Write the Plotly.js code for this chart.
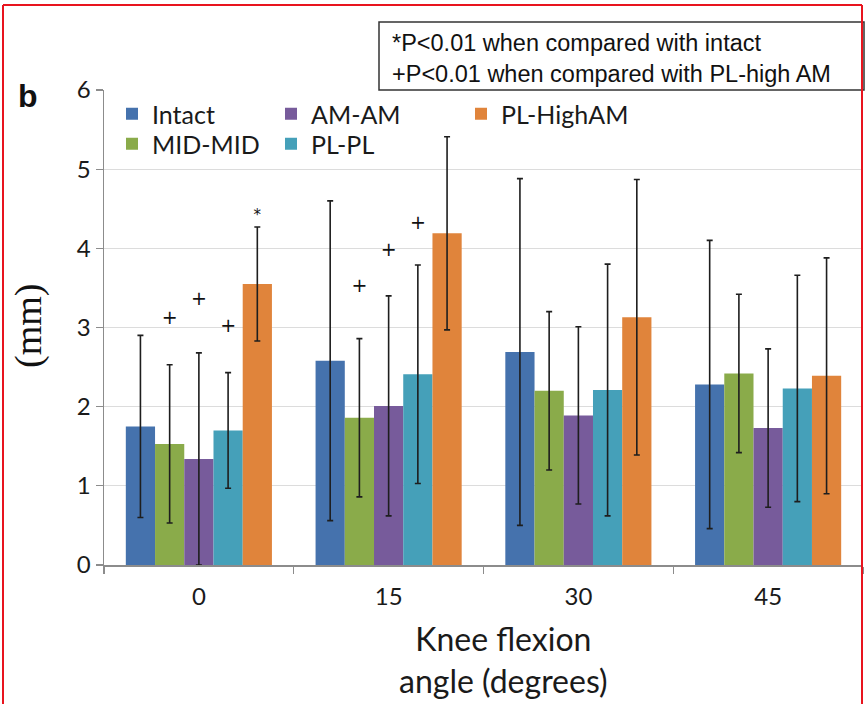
<!DOCTYPE html>
<html>
<head>
<meta charset="utf-8">
<script src="https://cdn.plot.ly/plotly-3.0.1.min.js"></script>
<style>
  html, body { margin: 0; padding: 0; background: #fff; }
  #chart { width: 866px; height: 704px; }
</style>
</head>
<body>
<div id="chart"></div>
<script>
// ---------- data ----------
const categories = ['0', '15', '30', '45'];
const seriesNames = ['Intact', 'MID-MID', 'AM-AM', 'PL-PL', 'PL-HighAM'];

const intact    = [1.75, 2.58, 2.69, 2.28];
const midMid    = [1.53, 1.86, 2.20, 2.42];
const amAm      = [1.34, 2.01, 1.89, 1.73];
const plPl      = [1.70, 2.41, 2.21, 2.23];
const plHighAm  = [3.55, 4.19, 3.13, 2.39];

const intactErr   = [1.15, 2.02, 2.19, 1.82];
const midMidErr   = [1.00, 1.00, 1.00, 1.00];
const amAmErr     = [1.34, 1.39, 1.12, 1.00];
const plPlErr     = [0.73, 1.38, 1.59, 1.43];
const plHighAmErr = [0.72, 1.22, 1.74, 1.49];

// significance symbols (per series, per category) and their heights
const midMidSig    = ['+', '+', '', ''];
const midMidSigY   = [3.10, 3.51, null, null];
const amAmSig      = ['+', '+', '', ''];
const amAmSigY     = [3.35, 3.96, null, null];
const plPlSig      = ['+', '+', '', ''];
const plPlSigY     = [3.00, 4.31, null, null];
const plHighAmSig  = ['*', '', '', ''];
const plHighAmSigY = [4.44, null, null, null];

const yTickVals = [0, 1, 2, 3, 4, 5, 6];

const noteLines = ['*P<0.01 when compared with intact', '+P<0.01 when compared with PL-high AM'];
const panelLabel = 'b';
const yTitle = '(mm)';
const xTitleLines = ['Knee flexion', 'angle (degrees)'];

// ---------- style ----------
const colors = ['#4572ad', '#8aab4a', '#775b9b', '#45a0b9', '#e0843b'];
const W = 866, H = 704;
const M = { l: 104, r: 3, t: 90, b: 139 };
const PW = W - M.l - M.r, PH = H - M.t - M.b;
const px = x => (x - M.l) / PW;          // pixel -> paper x
const py = y => 1 - (y - M.t) / PH;      // pixel -> paper y
const bargap = 0.23;
const calibri = 'Lato, "Open Sans", sans-serif';

const values = [intact, midMid, amAm, plPl, plHighAm];
const errs = [intactErr, midMidErr, amAmErr, plPlErr, plHighAmErr];
const legendIds = ['legend', 'legend2', 'legend3', 'legend4', 'legend5'];
// legend slot (pixel position of each entry's top-left), column-major as in the original
const legendSlots = [[112, 91], [112, 121], [271, 91], [271, 121], [461, 91]];

const traces = seriesNames.map((name, i) => ({
  type: 'bar',
  name: name,
  x: categories,
  y: values[i],
  marker: { color: colors[i], line: { width: 0 } },
  error_y: { type: 'data', array: errs[i], visible: true, color: '#1e1e1e', thickness: 1.6, width: 3 },
  legend: legendIds[i],
  hoverinfo: 'y+name'
}));

// significance marks on an overlaying numeric axis aligned to categories
const sigSets = [
  [1, midMidSig, midMidSigY],
  [2, amAmSig, amAmSigY],
  [3, plPlSig, plPlSigY],
  [4, plHighAmSig, plHighAmSigY]
];
const nSeries = seriesNames.length;
const barW = (1 - bargap) / nSeries;
sigSets.forEach(([si, txt, ys]) => {
  const xs = categories.map((c, ci) => ci + (si - (nSeries - 1) / 2) * barW);
  const isStar = txt.includes('*');
  traces.push({
    type: 'scatter', mode: 'text', xaxis: 'x2', yaxis: 'y',
    x: xs, y: isStar ? ys.map(v => v == null ? null : v - 0.03) : ys, text: txt,
    textposition: 'middle center',
    textfont: { family: 'DejaVu Sans, sans-serif', size: isStar ? 15 : 19, color: '#111111' },
    showlegend: false, hoverinfo: 'skip'
  });
});

const legendFont = { family: calibri, size: 25, color: '#1a1a1a' };
const layoutLegends = {};
legendIds.forEach((id, i) => {
  layoutLegends[id] = {
    orientation: 'v', xanchor: 'left', yanchor: 'top',
    x: px(legendSlots[i][0]), y: py(legendSlots[i][1]),
    bgcolor: 'rgba(0,0,0,0)', borderwidth: 0, font: legendFont,
    itemwidth: 30
  };
});

const layout = Object.assign({
  width: W, height: H,
  margin: M,
  paper_bgcolor: '#fff', plot_bgcolor: '#fff',
  barmode: 'group', bargap: bargap, bargroupgap: 0,
  font: { family: calibri, color: '#1a1a1a' },
  xaxis: {
    type: 'category',
    tickson: 'boundaries',
    ticks: 'outside', ticklen: 7, tickcolor: '#8c8c8c', tickwidth: 1.2,
    showline: true, linecolor: '#8c8c8c', linewidth: 1.5,
    showgrid: false,
    ticklabelstandoff: 10,
    tickfont: { family: calibri, size: 24, color: '#1a1a1a' },
    automargin: false
  },
  xaxis2: {
    overlaying: 'x', range: [-0.5, categories.length - 0.5],
    visible: false, fixedrange: true
  },
  yaxis: {
    range: [0, 6], tickvals: yTickVals,
    ticks: 'outside', ticklen: 7, tickcolor: '#8c8c8c', tickwidth: 1.2,
    showline: true, linecolor: '#8c8c8c', linewidth: 1.5,
    showgrid: true, gridcolor: '#dcdcdc', gridwidth: 1.2,
    zeroline: false,
    tickfont: { family: calibri, size: 24, color: '#1a1a1a' },
    automargin: false
  },
  showlegend: true,
  shapes: [
    // note box
    { type: 'rect', xref: 'paper', yref: 'paper', x0: px(379), x1: px(864), y0: py(90), y1: py(22),
      line: { color: '#333', width: 1.5 }, fillcolor: 'rgba(0,0,0,0)' },
    // red frame
    { type: 'line', xref: 'paper', yref: 'paper', x0: px(3), x1: px(3), y0: py(5), y1: py(720), line: { color: '#e8141e', width: 2 } },
    { type: 'line', xref: 'paper', yref: 'paper', x0: px(862), x1: px(862), y0: py(5), y1: py(720), line: { color: '#e8141e', width: 2 } },
    { type: 'line', xref: 'paper', yref: 'paper', x0: px(3), x1: px(862), y0: py(5), y1: py(5), line: { color: '#e8141e', width: 2 } }
  ],
  annotations: [
    { text: noteLines.join('<br>'), xref: 'paper', yref: 'paper', x: px(390), y: py(58),
      xanchor: 'left', yanchor: 'middle', align: 'left', showarrow: false,
      font: { family: 'Liberation Sans, Arial, sans-serif', size: 23.5, color: '#111' } },
    { text: '<b>' + panelLabel + '</b>', xref: 'paper', yref: 'paper', x: px(28), y: py(96),
      xanchor: 'center', yanchor: 'middle', showarrow: false,
      font: { family: 'Liberation Sans, Arial, sans-serif', size: 32, color: '#111' } },
    { text: yTitle, xref: 'paper', yref: 'paper', x: px(28), y: py(326),
      xanchor: 'center', yanchor: 'middle', showarrow: false, textangle: -90,
      font: { family: 'Liberation Serif, "Times New Roman", serif', size: 38, color: '#111' } },
    { text: xTitleLines.join('<br>'), xref: 'paper', yref: 'paper', x: px(503), y: py(659),
      xanchor: 'center', yanchor: 'middle', align: 'center', showarrow: false,
      font: { family: calibri, size: 32, color: '#1a1a1a' } }
  ]
}, layoutLegends);

Plotly.newPlot('chart', traces, layout, { displayModeBar: false, staticPlot: true });
</script>
</body>
</html>
